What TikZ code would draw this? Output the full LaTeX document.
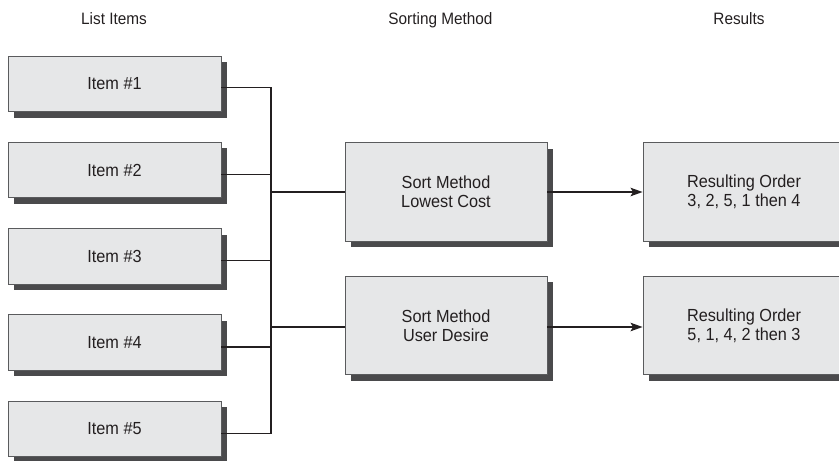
\documentclass[tikz,border=0pt]{standalone}
\usepackage{fontspec}
\setmainfont{Liberation Sans}[FakeStretch=0.93]
\usetikzlibrary{arrows.meta,shadows}
\definecolor{boxfill}{HTML}{E6E7E8}
\definecolor{boxline}{HTML}{5A5B5D}
\definecolor{shadowgray}{HTML}{4A4A4C}
\definecolor{inkline}{HTML}{231F20}
\definecolor{txt}{HTML}{231F20}
\tikzset{
  box/.style={draw=boxline, line width=0.9pt, fill=boxfill, rectangle, inner sep=0pt,
    text=txt, align=center,
    font=\fontsize{17.5}{19}\selectfont,
    drop shadow={shadow xshift=6pt, shadow yshift=-6pt, opacity=1, fill=shadowgray}},
  itembox/.style={box, minimum width=213pt, minimum height=55.5pt},
  bigbox/.style={box, minimum width=202pt, minimum height=98.5pt},
  title/.style={anchor=base, text=txt, font=\fontsize{16.5}{18}\selectfont},
  conn/.style={draw=inkline, line width=1.3pt},
  arr/.style={conn, -{Stealth[length=12pt, width=8.5pt, inset=2.5pt]}}
}
\begin{document}
\begin{tikzpicture}[x=1pt, y=-1pt]
\useasboundingbox (0,0) rectangle (839,461);
\node[title] (t1) at (114,24) {List Items};
\node[title] (t2) at (440.5,24) {Sorting Method};
\node[title] (t3) at (739,24) {Results};

\node[itembox] (i1) at (114.5,83.75) {Item \#1};
\node[itembox] (i2) at (114.5,170) {Item \#2};
\node[itembox] (i3) at (114.5,256.25) {Item \#3};
\node[itembox] (i4) at (114.5,342.5) {Item \#4};
\node[itembox] (i5) at (114.5,428.75) {Item \#5};

\node[bigbox] (s1) at (446,192) {Sort Method\\Lowest Cost};
\node[bigbox] (s2) at (446,325.5) {Sort Method\\User Desire};

\node[bigbox] (r1) at (744,192) {Resulting Order\\3, 2, 5, 1 then 4};
\node[bigbox] (r2) at (744,325.5) {Resulting Order\\5, 1, 4, 2 then 3};

\coordinate (bt) at (271,87.5);
\coordinate (bb) at (271,433.5);
\draw[conn] ([yshift=-3.75pt]i1.east) -| (bt) -- (bb);
\foreach \n in {2,3,4,5} {
  \draw[conn] ([yshift=-4.5pt]i\n.east) -- ([yshift=-4.5pt]i\n.east -| bt);
}
\draw[conn] (s1.west -| bt) -- (s1.west);
\draw[conn] ([yshift=-1.5pt]s2.west -| bt) -- ([yshift=-1.5pt]s2.west);
\draw[arr] (s1.east) -- (r1.west);
\draw[arr] ([yshift=-1.5pt]s2.east) -- ([yshift=-1.5pt]r2.west);
\end{tikzpicture}
\end{document}
